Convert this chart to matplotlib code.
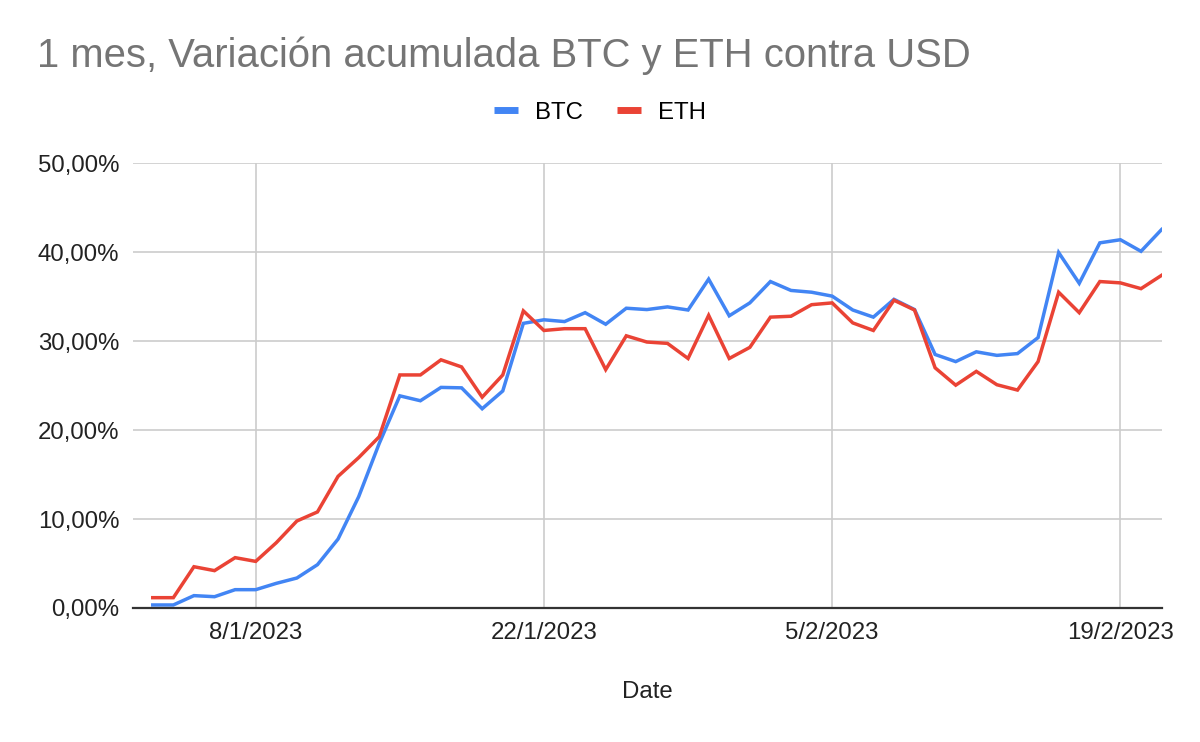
import matplotlib
matplotlib.use("Agg")
import matplotlib.pyplot as plt
from matplotlib.ticker import FuncFormatter
from matplotlib.lines import Line2D
import pandas as pd

plt.rcParams['font.family'] = ['Liberation Sans', 'DejaVu Sans']

dates = pd.date_range("2023-01-03", "2023-02-21", freq="D")
btc = [0.34, 0.34, 1.39, 1.27, 2.06, 2.06, 2.77, 3.37, 4.87, 7.75,
       12.5, 18.5, 23.85, 23.3, 24.8, 24.75, 22.4, 24.4, 32.0, 32.4,
       32.2, 33.2, 31.9, 33.7, 33.55, 33.85, 33.5, 36.97, 32.85, 34.3,
       36.7, 35.7, 35.5, 35.06, 33.5, 32.7, 34.7, 33.55, 28.5, 27.7,
       28.8, 28.4, 28.6, 30.4, 39.96, 36.5, 41.05, 41.4, 40.1, 42.55]
eth = [1.16, 1.16, 4.64, 4.2, 5.66, 5.24, 7.34, 9.78, 10.8, 14.8,
       16.9, 19.25, 26.2, 26.2, 27.9, 27.1, 23.7, 26.2, 33.4, 31.2,
       31.4, 31.4, 26.8, 30.6, 29.9, 29.75, 28.05, 32.9, 28.05, 29.3,
       32.7, 32.8, 34.1, 34.3, 32.05, 31.2, 34.6, 33.5, 27.0, 25.05,
       26.6, 25.1, 24.5, 27.7, 35.5, 33.2, 36.7, 36.55, 35.9, 37.4]
tick_dates = pd.to_datetime(["2023-01-08", "2023-01-22", "2023-02-05", "2023-02-19"])
tick_labels = ["8/1/2023", "22/1/2023", "5/2/2023", "19/2/2023"]
y_ticks = [0, 10, 20, 30, 40, 50]

BLUE = "#4285F4"
RED = "#EA4335"
FS = 17.3

fig = plt.figure(figsize=(12, 7.42), dpi=100)
ax = fig.add_axes([0.111, 0.1806, 0.857, 0.5994])

ax.plot(dates, btc, color=BLUE, lw=2.5, solid_joinstyle="miter", zorder=3)
ax.plot(dates, eth, color=RED, lw=2.5, solid_joinstyle="miter", zorder=4)

ax.set_ylim(0, 50)
ax.set_xlim(dates[0] - pd.Timedelta(days=0.95), dates[-1])
ax.set_yticks(y_ticks)
ax.yaxis.set_major_formatter(FuncFormatter(lambda v, p: f"{v:.2f}".replace(".", ",") + "%"))
ax.set_xticks(tick_dates)
ax.set_xticklabels(tick_labels)

ax.grid(True, color="#cccccc", lw=1.2, zorder=0)
for s in ["top", "right", "left"]:
    ax.spines[s].set_visible(False)
ax.spines["bottom"].set_color("#333333")
ax.spines["bottom"].set_linewidth(1.6)
ax.spines["bottom"].set_zorder(5)
ax.tick_params(axis="both", length=0, labelsize=FS, colors="#222222")
ax.tick_params(axis="x", pad=10)
ax.tick_params(axis="y", pad=10)

ax.set_xlabel("Date", fontsize=FS, color="#222222", labelpad=27)

fig.text(0.031, 0.925, "1 mes, Variación acumulada BTC y ETH contra USD",
         fontsize=28.8, color="#757575", ha="left", va="center")

handles = [Line2D([], [], color=BLUE, lw=5, solid_capstyle="butt"),
           Line2D([], [], color=RED, lw=5, solid_capstyle="butt")]
fig.legend(handles, ["BTC", "ETH"], loc="center", bbox_to_anchor=(0.5, 0.848),
           ncol=2, frameon=False, fontsize=FS, handletextpad=0.7,
           columnspacing=1.4, handlelength=1.0)

fig.savefig("out.png", dpi=100)
